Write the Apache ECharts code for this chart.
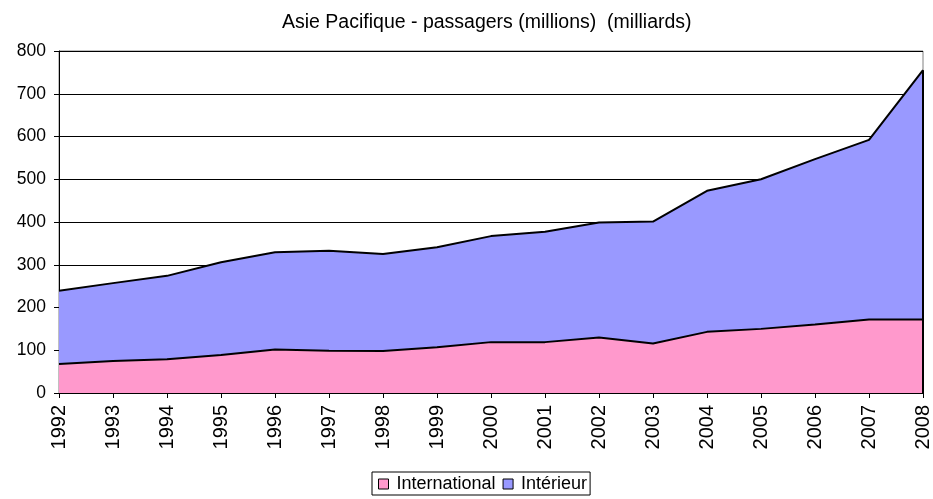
<!DOCTYPE html>
<html><head><meta charset="utf-8">
<script src="https://cdn.jsdelivr.net/npm/echarts@6/dist/echarts.min.js"></script>
<style>html,body{margin:0;padding:0;background:#fff}#c{width:933px;height:499px}</style>
</head><body><div id="c"></div>
<script>
const years = ['1992','1993','1994','1995','1996','1997','1998','1999','2000','2001','2002','2003','2004','2005','2006','2007','2008'];
const international = [68,75,79,89,102,99,98,107,119,119,130,116,143,150,160,172,172];
const interieur = [171,182,195,217,227,234,227,234,248,258,269,285,330,350,387,420,583];
const yTicks = [0,100,200,300,400,500,600,700,800];
const titleText = 'Asie Pacifique - passagers (millions)  (milliards)';

const font = '"Liberation Sans", Arial, sans-serif';
const last = years.length - 1;
const lastTotal = international[last] + interieur[last];

const chart = echarts.init(document.getElementById('c'));
chart.setOption({
  animation:false,
  backgroundColor:'#fff',
  title:{text:titleText,left:282,top:13,padding:0,textStyle:{fontFamily:font,fontSize:19.5,fontWeight:'normal',color:'#000'}},
  grid:{left:59,right:6,top:51,bottom:106,show:true,borderColor:'#808080',borderWidth:1},
  legend:{left:372,top:472,itemWidth:10,itemHeight:10,itemGap:7,icon:'rect',padding:[2,3,1,6],
    borderColor:'#000',borderWidth:1,borderRadius:0,
    textStyle:{fontFamily:font,fontSize:18,lineHeight:20,color:'#000',padding:[0,0,0,3]},
    data:[{name:'International',itemStyle:{color:'#FF99CC',borderColor:'#000',borderWidth:1}},
          {name:'Intérieur',itemStyle:{color:'#9999FF',borderColor:'#000',borderWidth:1}}]},
  xAxis:{type:'category',data:years,boundaryGap:false,
    axisLine:{lineStyle:{color:'#000',width:1}},
    axisTick:{show:true,length:5,lineStyle:{color:'#000'}},
    axisLabel:{rotate:90,fontFamily:font,fontSize:20,color:'#000',margin:0,
      rich:{y:{fontFamily:font,fontSize:20,color:'#000',padding:[0,12,0,0]}},
      formatter:function(v){return '{y|'+v+'}';}},
    splitLine:{show:false}},
  yAxis:{type:'value',min:yTicks[0],max:yTicks[yTicks.length-1],interval:100,
    axisLine:{show:true,lineStyle:{color:'#000'}},
    axisTick:{show:true,length:5,lineStyle:{color:'#000'}},
    axisLabel:{fontFamily:font,fontSize:17.5,color:'#000',margin:13},
    splitLine:{show:true,lineStyle:{color:'#000',width:1}}},
  series:[
    {name:'International',type:'line',stack:'t',data:international,showSymbol:false,
      lineStyle:{color:'#000',width:2},itemStyle:{color:'#FF99CC'},areaStyle:{color:'#FF99CC',opacity:1}},
    {name:'Intérieur',type:'line',stack:'t',data:interieur,showSymbol:false,
      lineStyle:{color:'#000',width:2},itemStyle:{color:'#9999FF'},areaStyle:{color:'#9999FF',opacity:1},
      markLine:{silent:true,symbol:'none',label:{show:false},lineStyle:{color:'#000',width:2,type:'solid'},
        data:[[{coord:[years[last],0]},{coord:[years[last],lastTotal]}]]}}
  ]
});
</script></body></html>
